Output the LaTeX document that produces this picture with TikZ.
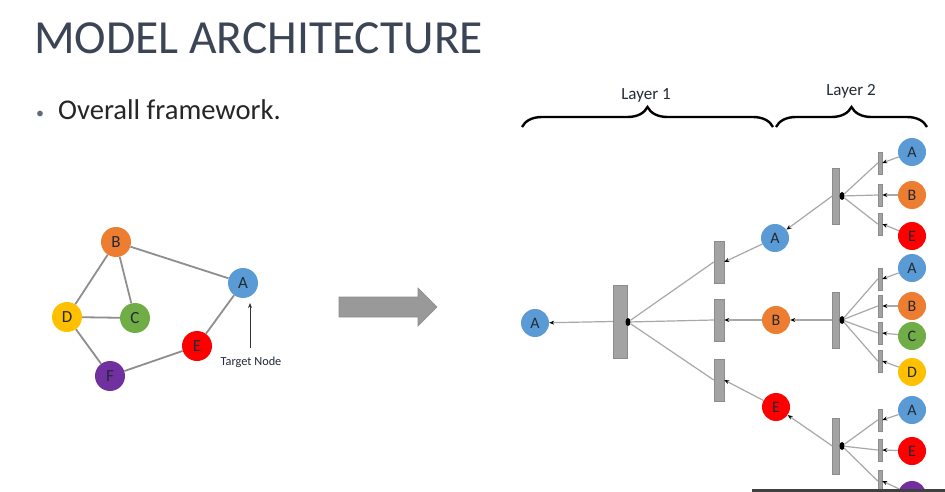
\documentclass[tikz,border=0pt]{standalone}
\usepackage{fontspec}
\setmainfont{Carlito}
\usetikzlibrary{arrows.meta,decorations.pathreplacing,shapes.geometric}
\definecolor{cA}{HTML}{5B9BD5}
\definecolor{cB}{HTML}{ED7D31}
\definecolor{cC}{HTML}{70AD47}
\definecolor{cD}{HTML}{FFC000}
\definecolor{cE}{HTML}{FF0000}
\definecolor{cF}{HTML}{7030A0}
\definecolor{txt}{HTML}{222A35}
\definecolor{titlec}{HTML}{3B4556}
\definecolor{barfill}{HTML}{A3A3A3}
\definecolor{barline}{HTML}{8C8C8C}
\definecolor{edgegray}{HTML}{8E8E8E}
\definecolor{linkgray}{HTML}{A8A8A8}
\definecolor{arrowfill}{HTML}{999999}
\definecolor{botline}{HTML}{404040}
\begin{document}
\begin{tikzpicture}[x=1pt,y=-1pt,
  gnode/.style={circle,minimum size=30pt,inner sep=0pt,font=\fontsize{17}{17}\selectfont,text=txt},
  tnode/.style={circle,minimum size=28pt,inner sep=0pt,font=\fontsize{16}{16}\selectfont,text=txt},
  gbar/.style={rectangle,fill=barfill,draw=barline,line width=0.5pt,inner sep=0pt},
  bigbar/.style={gbar,minimum width=14pt,minimum height=73pt},
  midbar/.style={gbar,minimum width=10pt,minimum height=42pt},
  ltwobar/.style={gbar,minimum width=7pt,minimum height=56pt},
  tinybar/.style={gbar,minimum width=4pt,minimum height=22pt},
  dotn/.style={ellipse,fill=black,minimum width=5pt,minimum height=8pt,inner sep=0pt},
  gedge/.style={draw=edgegray,line width=1.8pt},
  tlink/.style={draw=linkgray,line width=1.2pt},
  arr/.style={tlink,-{Stealth[length=5pt,width=4pt,black]}},
  bracestyle/.style={decorate,decoration={brace,amplitude=20pt},line width=2.4pt,black},
  lab/.style={font=\fontsize{17}{17}\selectfont,text=txt,inner sep=0pt},
]
\clip (0,0) rectangle (945,492);
\fill[white] (0,0) rectangle (945,492);

% title and bullet
\node[anchor=base west,font=\fontsize{47.5}{47.5}\selectfont,text=titlec,inner sep=0pt] (title) at (34,54) {MODEL ARCHITECTURE};
\node[anchor=base west,font=\fontsize{16}{16}\selectfont,text=titlec!80,inner sep=0pt] (bul) at (36,119) {•};
\node[anchor=base west,font=\fontsize{28.6}{28.6}\selectfont,text=black!85,inner sep=0pt] (sub) at (58,120) {Overall framework.};

% left graph
\node[gnode,fill=cB] (gB) at (116,242) {B};
\node[gnode,fill=cA] (gA) at (243,283) {A};
\node[gnode,fill=cD] (gD) at (67,317) {D};
\node[gnode,fill=cC] (gC) at (135,318) {C};
\node[gnode,fill=cE] (gE) at (197,346) {E};
\node[gnode,fill=cF] (gF) at (110,376) {F};
\draw[gedge] (gB) -- (gA);
\draw[gedge] (gB) -- (gD);
\draw[gedge] (gB) -- (gC);
\draw[gedge] (gD) -- (gC);
\draw[gedge] (gD) -- (gF);
\draw[gedge] (gF) -- (gE);
\draw[gedge] (gE) -- (gA);
\node[font=\fontsize{12.3}{12.3}\selectfont,text=txt,inner sep=0pt] (tl) at (251,362) {Target Node};
\coordinate (ts) at (250,348);
\coordinate (tt) at (250,303);
\draw[line width=0.9pt,black!80,-{Stealth[length=5pt,width=4pt]}] (ts) -- (tt);

% big arrow
\filldraw[fill=arrowfill,draw=barline,line width=0.6pt] (339,297) -- (418,297) -- (418,288) -- (437,307) -- (418,326) -- (418,317) -- (339,317) -- cycle;

% braces
\coordinate (b1l) at (522,127);
\coordinate (b1r) at (773,127);
\coordinate (b2l) at (776,127);
\coordinate (b2r) at (927,127);
\draw[bracestyle] (b1l) -- (b1r);
\draw[bracestyle] (b2l) -- (b2r);
\node[lab] (lay1) at (646,95) {Layer 1};
\node[lab] (lay2) at (851,91) {Layer 2};

% tree: root
\node[tnode,fill=cA] (r) at (535,323) {A};
\node[bigbar] (rb) at (620,321.5) {};
\node[dotn] (rd) at (628,322) {};
% layer 1 bars
\node[midbar] (m1) at (719,262) {};
\node[midbar] (m2) at (719,320) {};
\node[midbar] (m3) at (719,380) {};
% layer 1 nodes
\node[tnode,fill=cA] (n1) at (775,238) {A};
\node[tnode,fill=cB] (n2) at (776,320) {B};
\node[tnode,fill=cE] (n3) at (776,407) {E};
% layer 2 bars
\node[ltwobar] (p1) at (836,196) {};
\node[ltwobar] (p2) at (836,320) {};
\node[ltwobar] (p3) at (836,446) {};
\node[dotn] (q1) at (842,196) {};
\node[dotn] (q2) at (842,320) {};
\node[dotn] (q3) at (842,446) {};
% tiny bars
\node[tinybar] (t11) at (880,163) {};
\node[tinybar] (t12) at (880,195) {};
\node[tinybar] (t13) at (880,224) {};
\node[tinybar] (t21) at (880,279) {};
\node[tinybar] (t22) at (880,306) {};
\node[tinybar] (t23) at (880,333) {};
\node[tinybar] (t24) at (880,361) {};
\node[tinybar] (t31) at (880,420) {};
\node[tinybar] (t32) at (880,450) {};
\node[tinybar] (t33) at (880,481) {};
% leaves
\node[tnode,fill=cA] (l11) at (912,152) {A};
\node[tnode,fill=cB] (l12) at (912,195) {B};
\node[tnode,fill=cE] (l13) at (912,236) {E};
\node[tnode,fill=cA] (l21) at (912,268) {A};
\node[tnode,fill=cB] (l22) at (912,306) {B};
\node[tnode,fill=cC] (l23) at (912,336) {C};
\node[tnode,fill=cD] (l24) at (912,372) {D};
\node[tnode,fill=cA] (l31) at (912,410) {A};
\node[tnode,fill=cE] (l32) at (912,451) {E};
\node[tnode,fill=cF] (l33) at (912,495) {};

% connectors
\draw[arr] (rb.west) -- (r);
\draw[tlink] (rd) -- (m1.west);
\draw[tlink] (rd) -- (m2.west);
\draw[tlink] (rd) -- (m3.west);
\draw[arr] (n1) -- (m1.east);
\draw[arr] (n2) -- (m2.east);
\draw[arr] (n3) -- (m3.east);
\draw[arr] (p1.west) -- (n1);
\draw[arr] (p2.west) -- (n2);
\draw[arr] (p3.west) -- (n3);
\foreach \g/\k in {1/1,1/2,1/3,2/1,2/2,2/3,2/4,3/1,3/2,3/3}{
  \draw[tlink] (q\g) -- (t\g\k.west);
  \draw[arr] (l\g\k) -- (t\g\k.east);
}

% bottom rule
\fill[botline] (752,488.5) rectangle (945,492);
\end{tikzpicture}
\end{document}
